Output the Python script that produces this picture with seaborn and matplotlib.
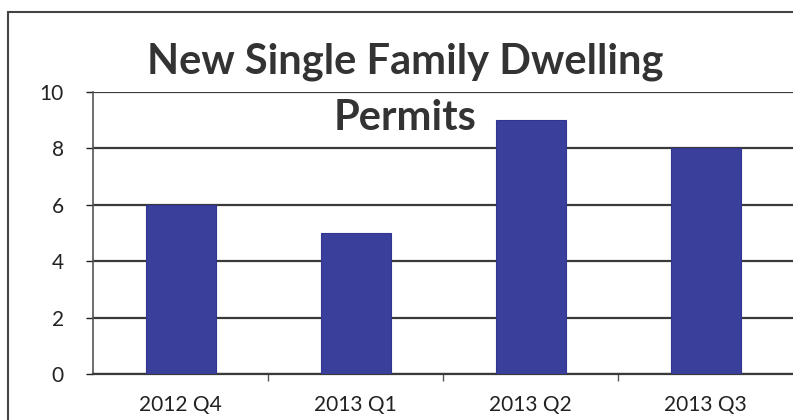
import matplotlib
matplotlib.use('Agg')
import matplotlib.pyplot as plt
import seaborn as sns
import pandas as pd

quarters = ['2012 Q4', '2013 Q1', '2013 Q2', '2013 Q3']
permits = [6, 5, 9, 8]
y_ticks = [0, 2, 4, 6, 8, 10]

df = pd.DataFrame({'Quarter': quarters, 'Permits': permits})

sns.set_style('white')
plt.rcParams['font.family'] = ['Lato', 'DejaVu Sans']

fig = plt.figure(figsize=(7.93, 4.2), dpi=100)
ax = fig.add_axes([93 / 793, 1 - 374 / 420, 700 / 793, 282 / 420])

sns.barplot(data=df, x='Quarter', y='Permits', color='#3b3f9c', width=0.4,
            saturation=1, edgecolor='#2f3590', linewidth=0.8, ax=ax, zorder=3)

ax.set_ylim(0, 10)
ax.set_xlim(-0.5, 3.5)
ax.set_yticks(y_ticks)
ax.grid(axis='y', color='#3a3a3a', linewidth=1.6, zorder=0)
ax.set_xlabel('')
ax.set_ylabel('')

for side in ['top', 'right']:
    ax.spines[side].set_visible(False)
ax.spines['left'].set_color('#555555')
ax.spines['left'].set_linewidth(1.2)
ax.spines['bottom'].set_color('#3a3a3a')
ax.spines['bottom'].set_linewidth(1.6)

ax.tick_params(axis='y', labelsize=15, colors='#222222', length=5, width=1,
               left=True, pad=16)
ax.tick_params(axis='x', labelsize=15, colors='#222222', length=0, pad=15)
# minor ticks between categories like Excel
ax.set_xticks([0.5, 1.5, 2.5], minor=True)
ax.tick_params(axis='x', which='minor', length=5, width=1, bottom=True, color='#555555')

fig.text(405 / 793, 1 - 62 / 420, 'New Single Family Dwelling', ha='center', va='center',
         fontsize=30, fontweight='bold', color='#333333')
fig.text(405 / 793, 1 - 118 / 420, 'Permits', ha='center', va='center',
         fontsize=30, fontweight='bold', color='#333333')

# outer chart border
border = plt.Rectangle((8 / 793, -0.05), 790 / 793, 1 - 12 / 420 + 0.05,
                       transform=fig.transFigure, fill=False, edgecolor='#444444',
                       linewidth=1.5)
fig.patches.append(border)

fig.savefig('out.png', dpi=100)
